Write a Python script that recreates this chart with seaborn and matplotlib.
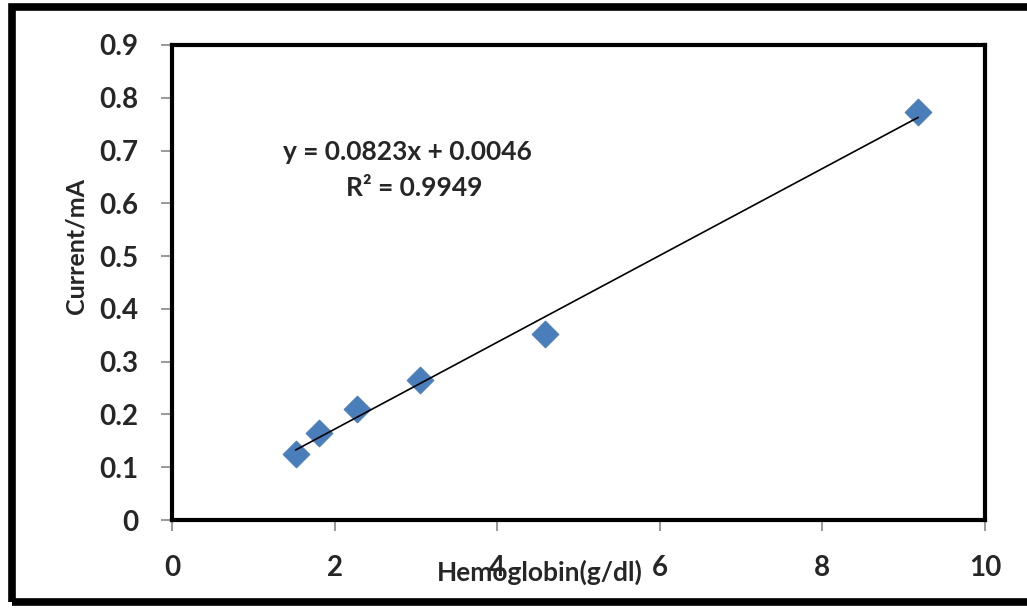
"""Hemoglobin calibration plot."""
import matplotlib
matplotlib.use("Agg")
import matplotlib.pyplot as plt
from matplotlib.patches import Rectangle
import numpy as np
import pandas as pd
import seaborn as sns

# data
hemoglobin = [1.52, 1.81, 2.28, 3.05, 4.59, 9.18]
current = [0.126, 0.164, 0.210, 0.266, 0.352, 0.773]
x_ticks = [0, 2, 4, 6, 8, 10]
y_ticks = [0, 0.1, 0.2, 0.3, 0.4, 0.5, 0.6, 0.7, 0.8, 0.9]
y_tick_labels = ["0", "0.1", "0.2", "0.3", "0.4", "0.5", "0.6", "0.7", "0.8", "0.9"]
equation = "y = 0.0823x + 0.0046"
r_squared = "R² = 0.9949"

df = pd.DataFrame({"hb": hemoglobin, "current": current})

sns.set_style("white")
plt.rcParams["font.family"] = ["Lato", "DejaVu Sans"]

fig = plt.figure(figsize=(10.27, 6.08), dpi=100)
ax = fig.add_axes([0.1675, 0.1447, 0.7915, 0.7813])

sns.regplot(
    data=df, x="hb", y="current", ax=ax, ci=None, truncate=True,
    marker="D",
    scatter_kws={"s": 190, "color": "#4A7EBB", "edgecolor": "#4475B0", "linewidths": 0.5,
                 "alpha": 1, "zorder": 3},
    line_kws={"color": "black", "linewidth": 1.2, "zorder": 4},
)

ax.set_xlim(0, 10)
ax.set_ylim(0, 0.9)
ax.set_xticks(x_ticks)
ax.set_xticklabels([str(t) for t in x_ticks])
ax.set_yticks(y_ticks)
ax.set_yticklabels(y_tick_labels)

for s in ax.spines.values():
    s.set_color("black")
    s.set_linewidth(3)

ax.tick_params(axis="both", which="major", direction="out", color="#888888",
               width=1.2, labelsize=20, bottom=True, left=True)
ax.tick_params(axis="y", length=8, pad=16)
ax.tick_params(axis="x", length=8, pad=17)
for lab in ax.get_xticklabels() + ax.get_yticklabels():
    lab.set_fontweight("bold")

ax.set_xlabel("Hemoglobin(g/dl)", fontsize=19, fontweight="bold")
ax.set_ylabel("Current/mA", fontsize=18, fontweight="bold")
ax.xaxis.set_label_coords(0.453, -0.083)
ax.yaxis.set_label_coords(-0.104, 0.577)

ax.text(0.289, 0.775, equation, transform=ax.transAxes, ha="center", va="center",
        fontsize=19, fontweight="bold")
ax.text(0.298, 0.7, r_squared, transform=ax.transAxes, ha="center", va="center",
        fontsize=19, fontweight="bold")

# outer chart border
fig.patches.append(Rectangle((0.0112, 0.0099), 1.2, 0.9778, transform=fig.transFigure,
                             fill=False, edgecolor="black", linewidth=5.5))

fig.savefig("out.png", dpi=100)
plt.close(fig)
